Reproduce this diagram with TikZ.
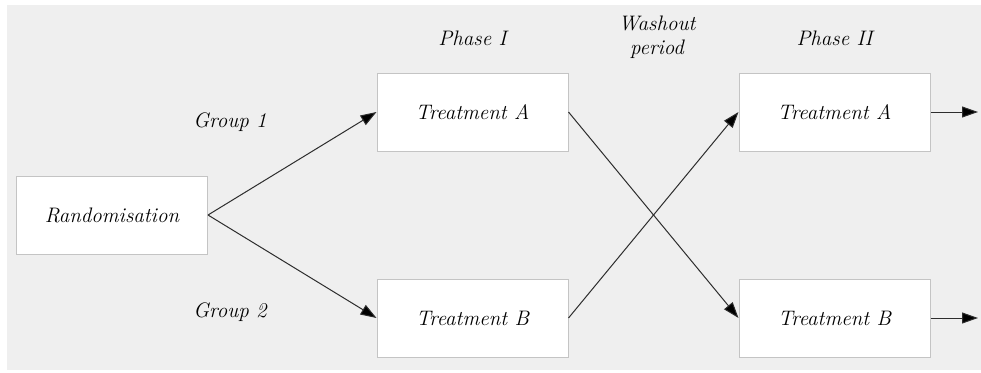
\documentclass[tikz,border=0pt]{standalone}
\usetikzlibrary{arrows.meta}
\usepackage[dvipsnames]{xcolor}
\definecolor{panelgray}{RGB}{239,239,239}
\definecolor{boxline}{RGB}{196,196,196}
\definecolor{arrowline}{RGB}{45,45,45}

\tikzset{
    trialbox/.style={draw=boxline, line width=1pt, fill=white, minimum width=191pt, minimum height=78pt, inner sep=0pt, font=\fontsize{21}{24}\selectfont\itshape},
    plainlabel/.style={font=\fontsize{21}{24}\selectfont\itshape, align=center},
    flow/.style={arrowline, line width=1pt, -{Triangle[length=16pt,width=11pt,fill=black]}}
}

\begin{document}
\begin{tikzpicture}[x=1pt, y=-1pt]
    \pgfmathsetmacro{\firstcol}{472.5}
    \pgfmathsetmacro{\secondcol}{834.5}
    \pgfmathsetmacro{\toprow}{112}
    \pgfmathsetmacro{\botrow}{318}

    \useasboundingbox (0, 0) rectangle (981, 372);
    \path [fill=panelgray] (7, 5) rectangle (981, 370);

    \node [trialbox] (rand) at (112, 215) {Randomisation};
    \node [trialbox] (ia) at (\firstcol, \toprow) {Treatment A};
    \node [trialbox] (ib) at (\firstcol, \botrow) {Treatment B};
    \node [trialbox] (iia) at (\secondcol, \toprow) {Treatment A};
    \node [trialbox] (iib) at (\secondcol, \botrow) {Treatment B};

    \node [plainlabel] (groupone) at (230, 122) {Group 1};
    \node [plainlabel] (grouptwo) at (230, 312) {Group 2};
    \node [plainlabel] (phaseone) at (\firstcol, 38) {Phase I};
    \node [plainlabel] (washout) at (657, 37) {Washout\\period};
    \node [plainlabel] (phasetwo) at (\secondcol, 38) {Phase II};

    \coordinate (outa) at (978, \toprow);
    \coordinate (outb) at (978, \botrow);

    \draw [flow] (rand.east) -- (ia.west);
    \draw [flow] (rand.east) -- (ib.west);
    \draw [flow] (ia.east) -- (iib.west);
    \draw [flow] (ib.east) -- (iia.west);
    \draw [flow] (iia.east) -- (outa);
    \draw [flow] (iib.east) -- (outb);

\end{tikzpicture}
\end{document}
